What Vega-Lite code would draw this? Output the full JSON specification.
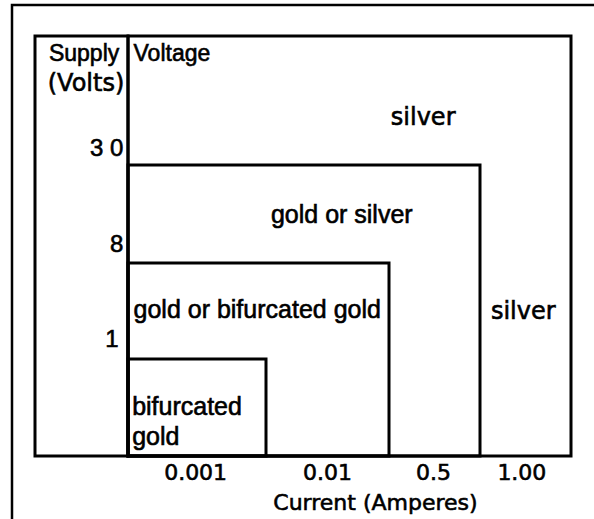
{
  "$schema": "https://vega.github.io/schema/vega-lite/v6.json",
  "width": 594,
  "height": 519,
  "autosize": "none",
  "padding": 0,
  "background": "white",
  "config": {"view": {"stroke": null}},
  "datasets": {
    "frame": [{"x0": -2, "x1": 5, "y0": -1, "y1": 5}],
    "regions": [
      {"region": "Supply Voltage column", "x0": -1, "x1": 0, "y0": 0, "y1": 4},
      {"region": "silver", "x0": 0, "x1": 4, "y0": 0, "y1": 4},
      {"region": "gold or silver", "x0": 0, "x1": 3, "y0": 0, "y1": 3},
      {"region": "gold or bifurcated gold", "x0": 0, "x1": 2, "y0": 0, "y1": 2},
      {"region": "bifurcated gold", "x0": 0, "x1": 1, "y0": 0, "y1": 1}
    ],
    "labels": [
      {"text": "Supply", "role": "header", "x": -0.85, "y": 3.81},
      {"text": "Voltage", "role": "header", "x": 0.04, "y": 3.81},
      {"text": "(Volts)", "role": "unit", "x": -0.04, "y": 3.57},
      {"text": "3 0", "role": "voltage", "x": -0.05, "y": 3.07},
      {"text": "8", "role": "voltage", "x": -0.05, "y": 2.11},
      {"text": "1", "role": "voltage", "x": -0.1, "y": 1.13},
      {"text": "silver", "role": "wide", "x": 2.02, "y": 3.31},
      {"text": "silver", "role": "wide", "x": 3.12, "y": 1.42},
      {"text": "gold or silver", "role": "region", "x": 1.04, "y": 2.41},
      {"text": "gold or bifurcated gold", "role": "region", "x": 0.04, "y": 1.43},
      {"text": "bifurcated", "role": "region", "x": 0.03, "y": 0.42},
      {"text": "gold", "role": "region", "x": 0.03, "y": 0.11},
      {"text": "0.001", "role": "current", "x": 0.49, "y": -0.32},
      {"text": "0.01", "role": "current", "x": 1.5, "y": -0.32},
      {"text": "0.5", "role": "current", "x": 2.49, "y": -0.32},
      {"text": "1.00", "role": "current", "x": 3.46, "y": -0.32},
      {"text": "Current (Amperes)", "role": "current", "x": 1.89, "y": -0.73}
    ]
  },
  "layer": [
    {
      "data": {"name": "frame"},
      "mark": {"type": "rect", "fill": "transparent", "stroke": "black", "strokeWidth": 2.5, "clip": false},
      "encoding": {
        "x": {"field": "x0", "type": "quantitative", "axis": null, "scale": {"type": "linear", "domain": [-2, -1, 0, 1, 2, 3, 4, 5], "range": [12, 35, 128, 266, 389, 480, 571, 600], "nice": false, "zero": false}},
        "x2": {"field": "x1"},
        "y": {"field": "y0", "type": "quantitative", "axis": null, "scale": {"type": "linear", "domain": [-1, 0, 1, 2, 3, 4, 5], "range": [530, 456, 359, 263, 165, 36, 5], "nice": false, "zero": false}},
        "y2": {"field": "y1"}
      }
    },
    {
      "data": {"name": "regions"},
      "mark": {"type": "rect", "fill": "transparent", "stroke": "black", "strokeWidth": 3, "clip": false},
      "encoding": {
        "x": {"field": "x0", "type": "quantitative", "axis": null},
        "x2": {"field": "x1"},
        "y": {"field": "y0", "type": "quantitative", "axis": null},
        "y2": {"field": "y1"}
      }
    },
    {
      "data": {"name": "labels"},
      "transform": [{"filter": "datum.role === 'header'"}],
      "mark": {"type": "text", "align": "left", "baseline": "alphabetic", "font": "Liberation Sans", "fontSize": 23, "color": "black", "stroke": "black", "strokeWidth": 0.6},
      "encoding": {
        "x": {"field": "x", "type": "quantitative", "axis": null},
        "y": {"field": "y", "type": "quantitative", "axis": null},
        "text": {"field": "text"}
      }
    },
    {
      "data": {"name": "labels"},
      "transform": [{"filter": "datum.role === 'region'"}],
      "mark": {"type": "text", "align": "left", "baseline": "alphabetic", "font": "Liberation Sans", "fontSize": 25, "color": "black", "stroke": "black", "strokeWidth": 0.6},
      "encoding": {
        "x": {"field": "x", "type": "quantitative", "axis": null},
        "y": {"field": "y", "type": "quantitative", "axis": null},
        "text": {"field": "text"}
      }
    },
    {
      "data": {"name": "labels"},
      "transform": [{"filter": "datum.role === 'wide'"}],
      "mark": {"type": "text", "align": "left", "baseline": "alphabetic", "font": "DejaVu Sans", "fontSize": 24, "color": "black", "stroke": "black", "strokeWidth": 0.6},
      "encoding": {
        "x": {"field": "x", "type": "quantitative", "axis": null},
        "y": {"field": "y", "type": "quantitative", "axis": null},
        "text": {"field": "text"}
      }
    },
    {
      "data": {"name": "labels"},
      "transform": [{"filter": "datum.role === 'voltage'"}],
      "mark": {"type": "text", "align": "right", "baseline": "alphabetic", "font": "Liberation Sans", "fontSize": 24, "color": "black", "stroke": "black", "strokeWidth": 0.6},
      "encoding": {
        "x": {"field": "x", "type": "quantitative", "axis": null},
        "y": {"field": "y", "type": "quantitative", "axis": null},
        "text": {"field": "text"}
      }
    },
    {
      "data": {"name": "labels"},
      "transform": [{"filter": "datum.role === 'unit'"}],
      "mark": {"type": "text", "align": "right", "baseline": "alphabetic", "font": "DejaVu Sans", "fontSize": 24, "color": "black", "stroke": "black", "strokeWidth": 0.6},
      "encoding": {
        "x": {"field": "x", "type": "quantitative", "axis": null},
        "y": {"field": "y", "type": "quantitative", "axis": null},
        "text": {"field": "text"}
      }
    },
    {
      "data": {"name": "labels"},
      "transform": [{"filter": "datum.role === 'current'"}],
      "mark": {"type": "text", "align": "center", "baseline": "alphabetic", "font": "DejaVu Sans", "fontSize": 22, "color": "black", "stroke": "black", "strokeWidth": 0.6},
      "encoding": {
        "x": {"field": "x", "type": "quantitative", "axis": null},
        "y": {"field": "y", "type": "quantitative", "axis": null},
        "text": {"field": "text"}
      }
    }
  ]
}
